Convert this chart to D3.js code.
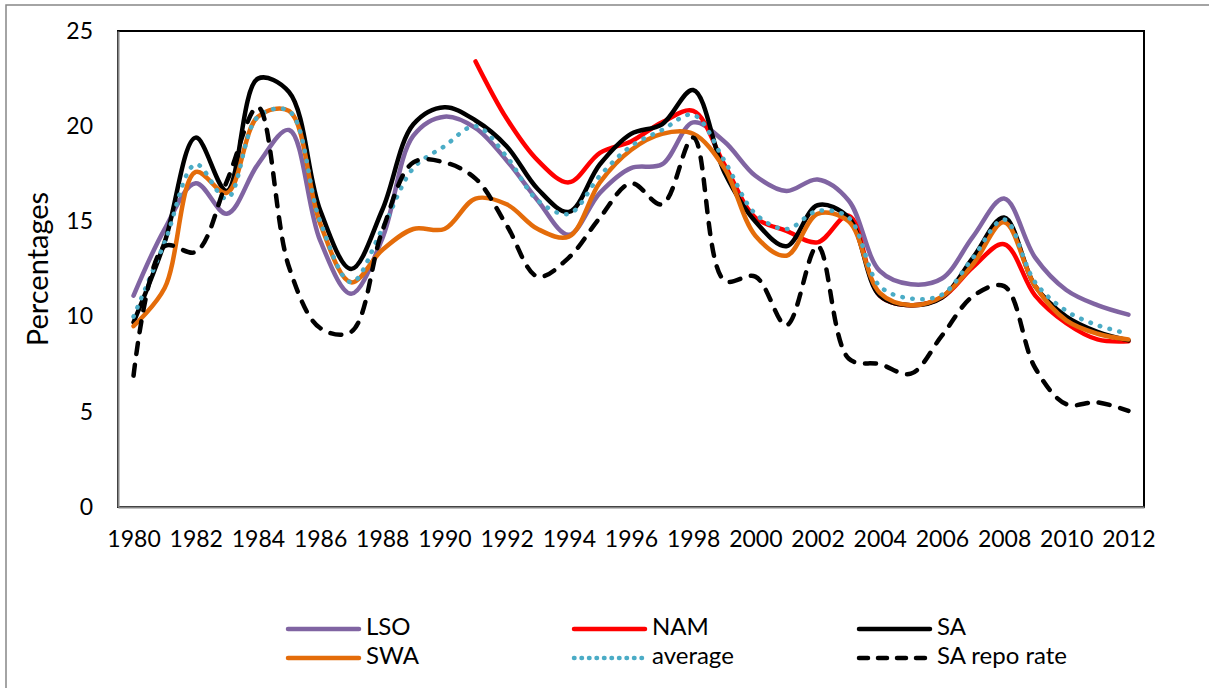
<!DOCTYPE html>
<html>
<head>
<meta charset="utf-8">
<script src="https://cdn.jsdelivr.net/npm/d3@7"></script>
<style>
  html, body { margin: 0; padding: 0; background: #fff; }
  svg { display: block; }
  text { font-family: Lato, "Open Sans", sans-serif; fill: #000; }
</style>
</head>
<body>
<svg id="chart" width="1209" height="688"></svg>
<script>
// ---- data ----
const years = d3.range(1980, 2013);
const tickYears = d3.range(1980, 2013, 2);
const yTicks = [0, 5, 10, 15, 20, 25];

const LSO = [11.1, 14.6, 17.0, 15.4, 18.0, 19.8, 14.0, 11.2, 14.1, 19.5, 20.5, 19.9, 18.2, 16.1, 14.3, 16.5, 17.8, 18.0, 20.2, 19.2, 17.4, 16.6, 17.2, 16.1, 12.4, 11.7, 12.0, 14.2, 16.2, 13.1, 11.4, 10.6, 10.1];
const NAM = [null, null, null, null, null, null, null, null, null, null, null, 23.4, 20.4, 18.2, 17.05, 18.6, 19.2, 20.2, 20.8, 18.0, 15.2, 14.5, 13.9, 15.3, 11.1, 10.6, 11.0, 12.6, 13.8, 11.1, 9.65, 8.8, 8.7];
const SA = [9.7, 13.9, 19.4, 16.6, 22.5, 21.8, 15.6, 12.5, 15.6, 20.1, 21.0, 20.3, 18.95, 16.7, 15.5, 18.0, 19.6, 20.1, 21.9, 17.6, 15.0, 13.7, 15.85, 15.2, 11.1, 10.6, 11.0, 13.1, 15.2, 11.6, 10.0, 9.2, 8.75];
const SWA = [9.5, 11.5, 17.6, 16.5, 20.5, 20.8, 14.9, 11.8, 13.5, 14.6, 14.6, 16.2, 15.9, 14.6, 14.2, 17.05, 18.75, 19.6, 19.6, 17.8, 14.25, 13.2, 15.4, 15.0, 11.25, 10.6, 11.05, 12.75, 14.95, 11.6, 9.8, 9.1, 8.8];
const AVG = [10.0, 13.9, 18.0, 16.2, 20.5, 20.8, 15.0, 11.8, 14.6, 17.8, 18.95, 20.0, 18.4, 16.1, 15.4, 17.4, 18.95, 19.8, 20.6, 18.2, 15.4, 14.6, 15.55, 15.2, 11.6, 10.95, 11.15, 13.1, 15.1, 11.8, 10.3, 9.55, 9.1];
const REPO = [6.9, 13.7, 13.4, 17.1, 21.0, 12.6, 9.4, 9.2, 14.5, 18.1, 18.1, 17.25, 14.8, 12.1, 13.1, 15.2, 17.0, 15.9, 19.4, 11.9, 12.1, 9.55, 13.7, 7.8, 7.5, 7.0, 9.0, 11.07, 11.6, 7.3, 5.4, 5.5, 5.05];

const seriesNames = ["LSO", "NAM", "SA", "SWA", "average", "SA repo rate"];
const seriesValues = [LSO, NAM, SA, SWA, AVG, REPO];
const seriesColors = ["#8064A2", "#FF0000", "#000000", "#E46C0A", "#4BACC6", "#000000"];
const seriesDash = [null, null, null, null, "0.5 9.5", "11 11"];

// ---- layout ----
const svg = d3.select("#chart");
const L = 118, R = 1144, T = 31, B = 507;

svg.append("rect").attr("x", 6).attr("y", 5).attr("width", 1400).attr("height", 900)
  .attr("fill", "#fff").attr("stroke", "#878787").attr("stroke-width", 1.5);

const x = d3.scalePoint().domain(years).range([L, R]).padding(0.5);
const y = d3.scaleLinear().domain([0, 25]).range([B, T]);

// plot area border
svg.append("rect").attr("x", L).attr("y", T).attr("width", R - L).attr("height", B - T)
  .attr("fill", "none").attr("stroke", "#000").attr("stroke-width", 2);

// axes
const yAxis = svg.append("g").attr("transform", `translate(${L},0)`)
  .call(d3.axisLeft(y).tickValues(yTicks).tickSize(0).tickPadding(25));
yAxis.select(".domain").attr("stroke", "#868686").attr("stroke-width", 2);
yAxis.selectAll("text").style("font-size", "23px").style("font-family", "Lato");

const xAxis = svg.append("g").attr("transform", `translate(0,${B})`)
  .call(d3.axisBottom(x).tickValues(tickYears).tickSize(0).tickPadding(0));
xAxis.select(".domain").attr("stroke", "#868686").attr("stroke-width", 2);
xAxis.selectAll("text").style("font-size", "23px").style("font-family", "Lato")
  .attr("dy", null).attr("y", 34).attr("dominant-baseline", "middle");

// axis title
svg.append("text").attr("transform", "translate(41,269) rotate(-90)")
  .attr("text-anchor", "middle").attr("dominant-baseline", "middle")
  .style("font-size", "29px").text("Percentages");

// lines
const line = d3.line()
  .defined(d => d.v !== null)
  .x(d => x(d.year)).y(d => y(d.v))
  .curve(d3.curveCatmullRom.alpha(0.5));

seriesValues.forEach((vals, i) => {
  const data = years.map((yr, j) => ({ year: yr, v: vals[j] }));
  const p = svg.append("path").datum(data)
    .attr("d", line)
    .attr("fill", "none")
    .attr("stroke", seriesColors[i])
    .attr("stroke-width", 4.5)
    .attr("stroke-linecap", "round")
    .attr("stroke-linejoin", "round");
  if (seriesDash[i]) p.attr("stroke-dasharray", seriesDash[i]);
});

// legend
const legX = [288, 574, 859];
const legY = [629, 658];
seriesNames.forEach((name, i) => {
  const cx = legX[i % 3], cy = legY[Math.floor(i / 3)];
  const g = svg.append("g");
  const ln = g.append("line").attr("x1", cx).attr("x2", cx + 71).attr("y1", cy).attr("y2", cy)
    .attr("stroke", seriesColors[i]).attr("stroke-width", 4.5).attr("stroke-linecap", "round");
  if (seriesDash[i]) ln.attr("stroke-dasharray", seriesDash[i] === "11 11" ? "9 10" : "0.5 7");
  g.append("text").attr("x", cx + 78).attr("y", cy).attr("dominant-baseline", "middle")
    .style("font-size", "24px").text(name);
});
</script>
</body>
</html>
